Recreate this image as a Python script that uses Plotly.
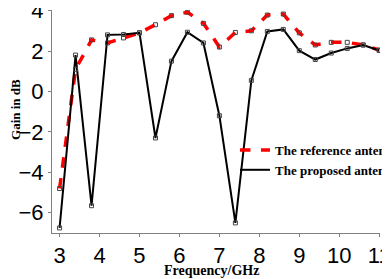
import plotly.graph_objects as go

freq = [3.0, 3.4, 3.8, 4.2, 4.6, 5.0, 5.4, 5.8, 6.2, 6.6, 7.0, 7.4, 7.8, 8.2, 8.6, 9.0, 9.4, 9.8, 10.2, 10.6, 11.0]
gain_reference = [-4.8, 1.1, 2.55, 2.4, 2.65, 2.9, 3.3, 3.75, 3.92, 3.37, 2.2, 2.92, 3.0, 3.78, 3.83, 2.9, 2.3, 2.43, 2.43, 2.3, 2.05]
gain_proposed = [-6.75, 1.8, -5.65, 2.8, 2.82, 2.9, -2.3, 1.5, 2.93, 2.4, -1.2, -6.5, 0.55, 2.97, 3.07, 2.02, 1.58, 1.9, 2.13, 2.3, 2.03]
x_ticks = [3, 4, 5, 6, 7, 8, 9, 10, 11]
y_ticks = [-6, -4, -2, 0, 2, 4]

marker = dict(symbol="square-open", size=4, color="#444444", line=dict(width=1))

fig = go.Figure()
fig.add_trace(go.Scatter(
    x=freq, y=gain_reference, mode="lines", name="The reference antenna",
    line=dict(color="#ff0000", width=3.5, dash="dash")))
fig.add_trace(go.Scatter(
    x=freq, y=gain_proposed, mode="lines", name="The proposed antenna",
    line=dict(color="#000000", width=2)))
fig.add_trace(go.Scatter(
    x=freq, y=gain_reference, mode="markers", showlegend=False, marker=marker))
fig.add_trace(go.Scatter(
    x=freq, y=gain_proposed, mode="markers", showlegend=False, marker=marker))

fig.update_layout(
    width=390, height=279,
    margin=dict(l=44, r=18, t=2, b=54, autoexpand=False),
    paper_bgcolor="white", plot_bgcolor="white",
    showlegend=True,
    legend=dict(xref="container", yref="container", x=0.582, y=0.545,
                xanchor="left", yanchor="top",
                bgcolor="rgba(0,0,0,0)", itemwidth=30, tracegroupgap=0,
                font=dict(family="Liberation Serif", size=13, color="black", weight="bold")),
    xaxis=dict(range=[2.81, 11.02], tickvals=x_ticks, showgrid=False, zeroline=False,
               automargin=False, ticklabeloverflow="allow", ticklabelstandoff=0,
               showline=True, linecolor="#808080", linewidth=1, ticks="outside", ticklen=3,
               tickcolor="#808080",
               tickfont=dict(family="Liberation Sans", size=22, color="black")),
    yaxis=dict(range=[-7, 4.03], tickvals=y_ticks, showgrid=False, zeroline=False,
               automargin=False, ticklabeloverflow="allow",
               showline=True, linecolor="#808080", linewidth=1, ticks="outside", ticklen=3,
               tickcolor="#808080",
               tickfont=dict(family="Liberation Sans", size=22, color="black")),
    annotations=[
        dict(text="<b>Frequency/GHz</b>", xref="paper", yref="paper", x=0.485, y=-0.166,
             xanchor="center", yanchor="middle", showarrow=False,
             font=dict(family="Liberation Serif", size=14, color="black")),
        dict(text="<b>Gain in dB</b>", xref="paper", yref="paper", x=-0.113, y=0.556,
             xanchor="center", yanchor="middle", showarrow=False, textangle=-90,
             font=dict(family="Liberation Serif", size=13, color="black")),
    ],
)

fig.write_html("out.html")
